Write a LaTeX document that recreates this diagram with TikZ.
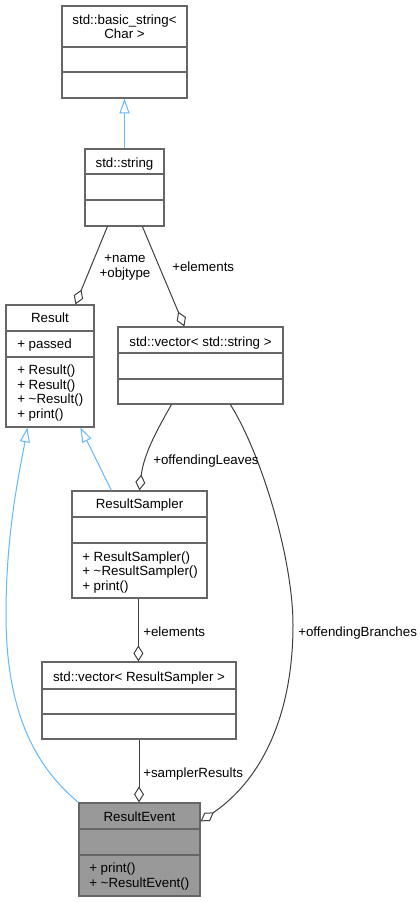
\documentclass[tikz,border=0pt]{standalone}
\usepackage{fontspec}
\setmainfont{Liberation Sans}
\usetikzlibrary{arrows.meta,calc,fit}
\definecolor{boxc}{HTML}{666666}
\definecolor{edgec}{HTML}{404040}
\definecolor{inhc}{HTML}{63B8FF}
\definecolor{focusc}{HTML}{999999}
\begin{document}
\begin{tikzpicture}[x=0.75pt,y=-0.75pt,
  font=\fontsize{10pt}{11pt}\selectfont,
  umlbox/.style={draw=boxc, line width=0.9pt, inner sep=0pt, fill=white},
  focusbox/.style={umlbox, fill=focusc},
  sepline/.style={draw=boxc, line width=0.9pt},
  ttl/.style={inner sep=0pt, anchor=base},
  mem/.style={inner sep=0pt, anchor=base west, align=left},
  lbl/.style={inner sep=0pt, anchor=base west, align=left},
  usage/.style={draw=edgec, line width=0.75pt, -{Diamond[open, length=12pt, width=7.5pt, line width=0.75pt]}},
  inh/.style={draw=inhc, line width=0.75pt, -{Triangle[open, length=11pt, width=7.5pt, line width=0.75pt]}}]
\path[fill=white] (0,0) rectangle (419,902);
% boxes
\node[umlbox, fit={(62,6) (187,98)}] (bs) {};
\node[umlbox, fit={(85,149) (164,226)}] (str) {};
\node[umlbox, fit={(6,305) (94,427)}] (res) {};
\node[umlbox, fit={(118,327) (283,404)}] (vs) {};
\node[umlbox, fit={(72,491) (207,598)}] (rs) {};
\node[umlbox, fit={(42,662) (236,739)}] (vrs) {};
\node[focusbox, fit={(79,803) (200,896)}] (re) {};
% separators
\foreach \b/\ya/\yb in {bs/47/72, str/174/200, res/331/357, vs/353/379, rs/517/543, vrs/689/714, re/829/855}{
  \draw[sepline] (\b.west |- 0,\ya) -- (\b.east |- 0,\ya);
  \draw[sepline] (\b.west |- 0,\yb) -- (\b.east |- 0,\yb);
}
% titles (multi-line nodes: base = baseline of last line)
\node[ttl, align=center] (bst) at (bs.north |- 0,38.8) {std::basic\_string<\\Char >};
\node[ttl] (strt) at (str.north |- 0,167.5) {std::string};
\node[ttl] (rest) at (res.north |- 0,322.5) {Result};
\node[ttl] (vst) at (vs.north |- 0,346.5) {std::vector< std::string >};
\node[ttl] (rst) at (rs.north |- 0,508.5) {ResultSampler};
\node[ttl] (vrst) at (vrs.north |- 0,681.5) {std::vector< ResultSampler >};
\node[ttl] (ret) at (re.north |- 0,821.5) {ResultEvent};
% members
\node[mem] (resa) at (17,348.5) {+ passed};
\node[mem] (resm) at (17,418.5) {+ Result()\\+ Result()\\+ \textasciitilde Result()\\+ print()};
\node[mem] (rsm) at (82,590.5) {+ ResultSampler()\\+ \textasciitilde ResultSampler()\\+ print()};
\node[mem] (rem) at (89,887.5) {+ print()\\+ \textasciitilde ResultEvent()};
% edges
\draw[inh] (str.north) -- (bs.south);
\draw[usage] ($(str.south west)+(23,0)$) -- ($(res.north west)+(70,0)$);
\draw[usage] ($(str.south west)+(58,0)$) -- ($(vs.north west)+(67,0)$);
\draw[usage] ($(vs.south west)+(54,0)$) .. controls (160,425) and (144,452) .. ($(rs.north west)+(68,0)$);
\draw[usage] ($(vs.south west)+(113,0)$) .. controls (262,455) and (293,560) .. (293,625) .. controls (293,705) and (268,775) .. ($(re.north east)+(0,19)$);
\draw[inh] ($(rs.north west)+(40,0)$) -- ($(res.south west)+(75,0)$);
\draw[inh] (re.north west) .. controls (42,772) and (6,722) .. (6,615) .. controls (6,530) and (20,470) .. ($(res.south west)+(22,0)$);
\draw[usage] ($(rs.south west)+(67,0)$) -- ($(vrs.north west)+(97,0)$);
\draw[usage] (vrs.south) -- (vrs.south |- re.north);
% labels
\node[inner sep=0pt, anchor=base, align=center] (l1) at (125,277.5) {+name\\+objtype};
\node[lbl] (l2) at (172,271.5) {+elements};
\node[lbl] (l3) at (153,464.5) {+offendingLeaves};
\node[lbl] (l4) at (143,636.5) {+elements};
\node[lbl] (l5) at (298,636.5) {+offendingBranches};
\node[lbl] (l6) at (143,777.5) {+samplerResults};
\end{tikzpicture}
\end{document}
